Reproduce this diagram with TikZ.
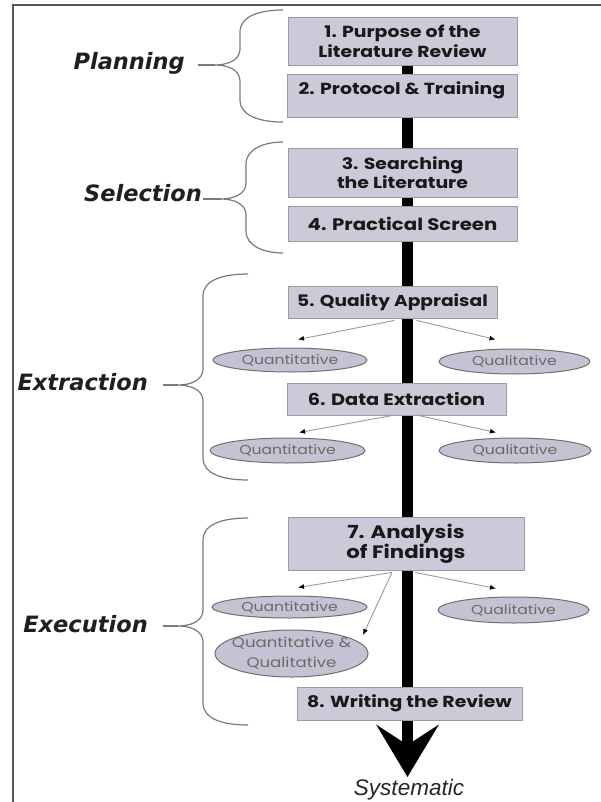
\documentclass[tikz,border=0pt]{standalone}
\usepackage{fontspec}
\setmainfont{Poppins}
\newfontfamily\boxfont{Poppins}[FakeStretch=1.18]
\newfontfamily\ellfont{Poppins}[FakeStretch=1.2]
\newfontfamily\labelfont{DejaVu Sans}
\newfontfamily\capfont{Liberation Sans}
\usetikzlibrary{arrows.meta,calc,shapes.geometric}

\definecolor{boxfill}{HTML}{CDC9D9}
\definecolor{boxline}{HTML}{9D99AA}
\definecolor{ellfill}{HTML}{C6C2D3}
\definecolor{ellline}{HTML}{6F6F6F}
\definecolor{elltext}{HTML}{6A6A6A}
\definecolor{bracegray}{HTML}{7A7A7A}
\definecolor{leadergray}{HTML}{9A9A9A}
\definecolor{framegray}{HTML}{555555}

\tikzset{
  stepbox/.style={draw=boxline, line width=0.8pt, fill=boxfill, inner sep=0pt,
    align=center, font=\boxfont\fontsize{16}{20}\selectfont\bfseries, text=black!90},
  outcome/.style={ellipse, draw=ellline, line width=1pt, fill=ellfill, inner sep=0pt,
    align=center, font=\ellfont\fontsize{13}{20}\selectfont, text=elltext},
  phase/.style={font=\labelfont\fontsize{22.5}{26}\selectfont\bfseries\itshape,
    anchor=base east, text=black!88, inner sep=0pt},
  leader/.style={draw=leadergray, line width=0.9pt,
    -{Latex[length=6pt,width=5pt,color=black]}},
  brace/.style={draw=bracegray, line width=1.2pt},
  spine/.style={line width=11pt, black,
    -{Stealth[length=52pt,width=62pt,inset=20pt]}},
}

% curly brace: end x, spine x, tip x, top y, middle y, bottom y
\newcommand{\phasebrace}[6]{%
  \draw[brace] ({#1},{#4}) .. controls ({#2+20},{#4}) and ({#2},{#4+6}) .. ({#2},{#4+22})
    -- ({#2},{#5-16}) .. controls ({#2},{#5-5}) and ({#2-12},{#5}) .. ({#2-25},{#5})
    .. controls ({#2-12},{#5}) and ({#2},{#5+5}) .. ({#2},{#5+16})
    -- ({#2},{#6-22}) .. controls ({#2},{#6-6}) and ({#2+20},{#6}) .. ({#1},{#6});
  \draw[brace] ({#2-25},{#5}) -- ({#3},{#5});
}

\begin{document}
\begin{tikzpicture}
\begin{scope}[x=1pt,y=-1pt]
  \useasboundingbox (0,0) rectangle (601,802);

  % frame
  \draw[framegray, line width=1.3pt] (601,5) -- (13,5) -- (13,802);

  % main spine with the large arrowhead
  \coordinate (spinetop) at (407.5,65);
  \coordinate (spineend) at (407.5,777);
  \draw[spine] (spinetop) -- (spineend);

  % steps
  \node[stepbox, minimum width=229pt, minimum height=48pt] (b1) at (402.5,41)
    {1. Purpose of the\\Literature Review};
  \node[stepbox, minimum width=230pt, minimum height=43pt, text depth=15pt] (b2) at (402,95.5)
    {2. Protocol \& Training};
  \node[stepbox, minimum width=229pt, minimum height=49pt,
    font=\boxfont\fontsize{16}{19}\selectfont\bfseries] (b3) at (402.5,172.5)
    {3. Searching\\the Literature};
  \node[stepbox, minimum width=229pt, minimum height=35pt,
    font=\boxfont\fontsize{16.7}{20}\selectfont\bfseries] (b4) at (402.5,223.5)
    {4. Practical Screen};
  \node[stepbox, minimum width=209pt, minimum height=32pt,
    font=\boxfont\fontsize{15.8}{20}\selectfont\bfseries] (b5) at (392.5,302)
    {5. Quality Appraisal};
  \node[stepbox, minimum width=219pt, minimum height=32pt,
    font=\boxfont\fontsize{16.4}{20}\selectfont\bfseries] (b6) at (396.5,399)
    {6. Data Extraction};
  \node[stepbox, minimum width=236pt, minimum height=53pt,
    font=\boxfont\fontsize{18}{20}\selectfont\bfseries] (b7) at (406,543.5)
    {7. Analysis\\of Findings};
  \node[stepbox, minimum width=225pt, minimum height=33pt] (b8) at (409.5,703.5)
    {8. Writing the Review};

  % outcomes
  \node[outcome, minimum width=154pt, minimum height=24pt] (q1) at (290,360) {Quantitative};
  \node[outcome, minimum width=151pt, minimum height=25pt] (l1) at (514.5,361.5) {Qualitative};
  \node[outcome, minimum width=155pt, minimum height=25pt] (q2) at (287.5,450.5) {Quantitative};
  \node[outcome, minimum width=152pt, minimum height=25pt] (l2) at (515,450.5) {Qualitative};
  \node[outcome, minimum width=155pt, minimum height=22pt] (q3) at (289.5,607) {Quantitative};
  \node[outcome, minimum width=151pt, minimum height=26pt] (l3) at (513.5,610) {Qualitative};
  \node[outcome, minimum width=153pt, minimum height=47pt, inner xsep=-8pt, inner ysep=-2pt,
    font=\ellfont\fontsize{13.8}{20}\selectfont] (qq) at (291.5,653.5)
    {Quantitative \&\\Qualitative};

  % leaders
  \draw[leader] ($(b5.south)+(2,2)$) -- ($(q1.north)+(8,-8)$);
  \draw[leader] ($(b5.south)+(24,2)$) -- ($(l1.north)+(-19,-9)$);
  \draw[leader] ($(b6.south)+(-3.5,0)$) -- ($(q2.north)+(11.5,-5)$);
  \draw[leader] ($(b6.south)+(21.5,0)$) -- ($(l2.north)+(-19,-5)$);
  \draw[leader] ($(b7.south)+(-14,2)$) -- ($(q3.north)+(8.5,-8)$);
  \draw[leader] ($(b7.south)+(9,2)$) -- ($(l3.north)+(-17.5,-8)$);
  \draw[leader] ($(b7.south)+(-14,2)$) -- ($(qq.center)+(71.5,-18.5)$);

  % phases
  \phasebrace{283}{240}{198}{10}{65}{122}
  \node[phase] (planning) at (185,70) {Planning};
  \phasebrace{283}{246}{203}{142}{199}{253}
  \node[phase] (selection) at (202,202) {Selection};
  \phasebrace{248}{203}{163}{274}{385}{480}
  \node[phase] (extraction) at (148,390) {Extraction};
  \phasebrace{248}{203}{163}{518}{626}{725}
  \node[phase] (execution) at (148,632) {Execution};

  % result
  \node[anchor=base, inner sep=0pt, font=\capfont\fontsize{22.5}{26}\selectfont\itshape,
    text=black!85] (sys) at (409,795) {Systematic};
\end{scope}
\end{tikzpicture}
\end{document}
